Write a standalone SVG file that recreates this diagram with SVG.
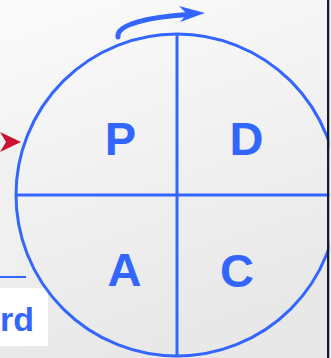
<svg xmlns="http://www.w3.org/2000/svg" width="331" height="358" viewBox="0 0 331 358">
<defs>
<linearGradient id="bg" x1="0" y1="0" x2="0.3" y2="1">
<stop offset="0" stop-color="#fbfbfb"/>
<stop offset="1" stop-color="#e8e8e8"/>
</linearGradient>
<style>
.q{fill:#3366ff;font-family:"Liberation Sans",Arial,sans-serif;font-weight:bold;font-size:47px;text-anchor:middle}
.ln{stroke:#3366ff;stroke-width:3;fill:none}
</style>
</defs>
<rect x="0" y="0" width="331" height="358" fill="url(#bg)"/>
<rect x="0" y="147" width="17" height="125" fill="#f0f0f0"/>
<rect x="0" y="288" width="48" height="58" fill="#ffffff"/>
<g id="label-rd">
<text x="0" y="331" style="fill:#3366ff;font-family:'Liberation Sans',Arial,sans-serif;font-weight:bold;font-size:34px">rd</text>
<line x1="0" y1="277" x2="26" y2="277" stroke="#3366ff" stroke-width="2"/>
</g>
<g id="cycle">
<circle cx="177" cy="195" r="161" fill="#ffffff" class="ln"/>
</g>
<g id="connectors">
<line class="ln" x1="16" y1="195" x2="331" y2="195"/>
<line class="ln" x1="177" y1="34" x2="177" y2="357"/>
<path d="M118,37 C116,24 150,17 188,14.5" stroke="#3366ff" stroke-width="5" stroke-linecap="round" fill="none"/>
<polygon points="205,13 179,6 187,14 180,22" fill="#3366ff"/>
<polygon points="0,132 21,142 0,152 6,142" fill="#cc1133"/>
</g>
<g id="P"><text class="q" x="120.5" y="155">P</text></g>
<g id="D"><text class="q" x="246.5" y="155">D</text></g>
<g id="A"><text class="q" x="124.5" y="286">A</text></g>
<g id="C"><text class="q" x="237" y="287">C</text></g>
<rect x="327" y="0" width="2.5" height="358" fill="#1a1a2a"/>
<rect x="329.5" y="0" width="1.5" height="358" fill="#f0f0f0"/>
</svg>
